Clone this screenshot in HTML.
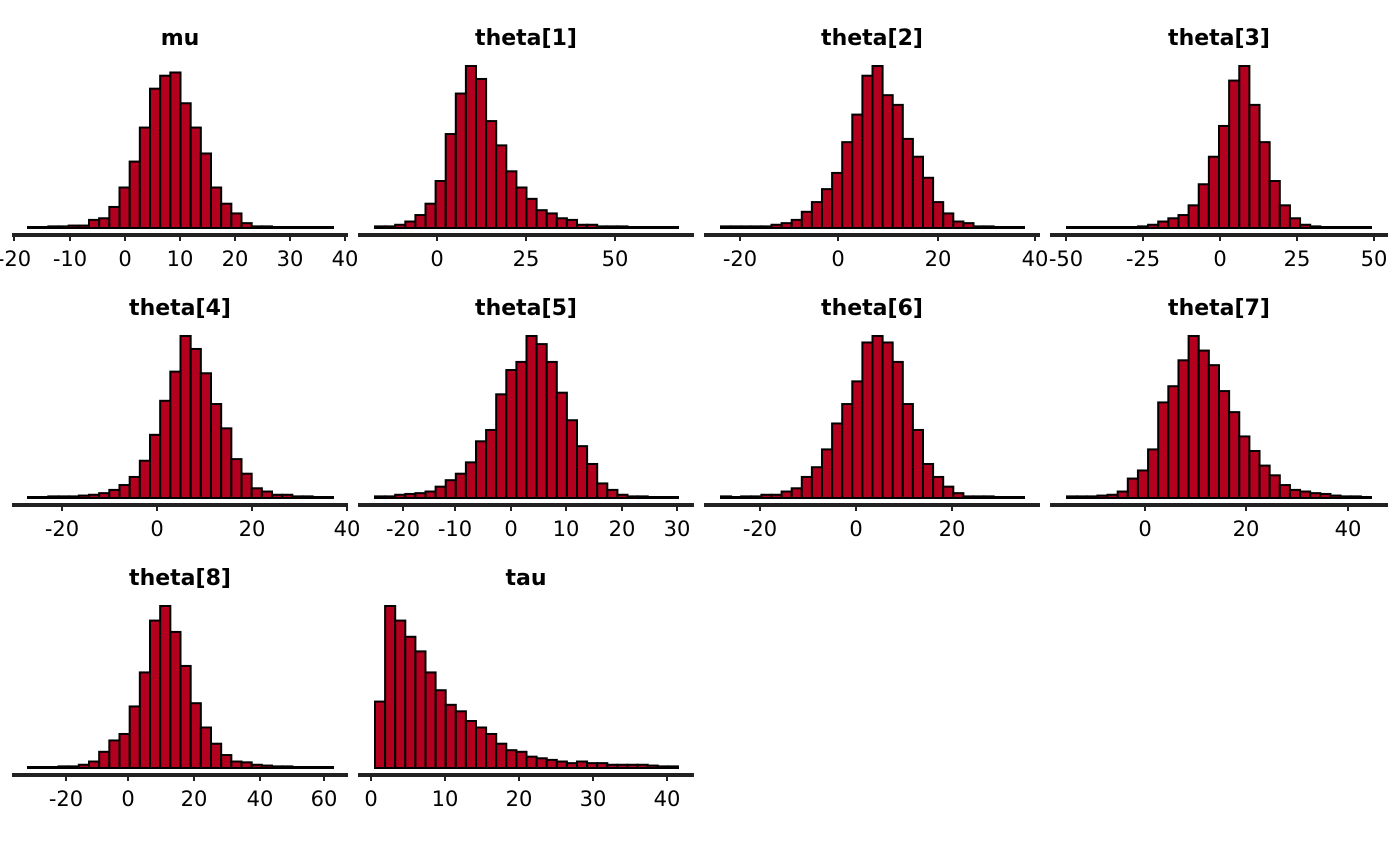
<!DOCTYPE html>
<html><head><meta charset="utf-8"><style>
body{margin:0;background:#fff}
svg{display:block}
text{font-family:"DejaVu Sans","Liberation Sans",sans-serif}
</style></head><body>
<svg id="s" width="1400" height="866" xmlns="http://www.w3.org/2000/svg"></svg>
<script>
const P=[
{t:"mu",c:0,r:0,x0:28,x1:333,h:[0.005,0.005,0.01,0.01,0.015,0.015,0.05,0.06,0.13,0.25,0.41,0.62,0.86,0.94,0.96,0.77,0.62,0.46,0.25,0.15,0.09,0.03,0.01,0.01,0.005,0.005,0.005,0.005,0.005,0.005],ticks:[[14,"-20"],[70,"-10"],[125,"0"],[180,"10"],[235,"20"],[290,"30"],[345,"40"]]},
{t:"theta[1]",c:1,r:0,x0:375,x1:678,h:[0.01,0.01,0.02,0.04,0.08,0.15,0.29,0.58,0.83,1.0,0.92,0.66,0.51,0.35,0.25,0.18,0.11,0.09,0.06,0.05,0.02,0.02,0.01,0.01,0.01,0.005,0.005,0.005,0.005,0.005],ticks:[[437,"0"],[526,"25"],[615,"50"]]},
{t:"theta[2]",c:2,r:0,x0:721,x1:1024,h:[0.01,0.01,0.01,0.01,0.01,0.02,0.03,0.05,0.1,0.16,0.24,0.34,0.53,0.7,0.94,1.0,0.82,0.76,0.55,0.44,0.31,0.16,0.09,0.04,0.03,0.01,0.01,0.005,0.005,0.005],ticks:[[740,"-20"],[838,"0"],[938,"20"],[1035,"40"]]},
{t:"theta[3]",c:3,r:0,x0:1067,x1:1371,h:[0.003,0.003,0.003,0.003,0.003,0.003,0.005,0.01,0.02,0.04,0.06,0.08,0.14,0.27,0.44,0.63,0.91,1.0,0.76,0.53,0.29,0.14,0.06,0.02,0.01,0.003,0.003,0.003,0.003,0.005],ticks:[[1066,"-50"],[1143,"-25"],[1220,"0"],[1297,"25"],[1374,"50"]]},
{t:"theta[4]",c:0,r:1,x0:28,x1:333,h:[0.005,0.005,0.01,0.01,0.01,0.015,0.02,0.03,0.05,0.08,0.13,0.23,0.39,0.6,0.78,1.0,0.92,0.77,0.58,0.43,0.24,0.15,0.06,0.04,0.02,0.02,0.01,0.01,0.005,0.005],ticks:[[62,"-20"],[157,"0"],[252,"20"],[347,"40"]]},
{t:"theta[5]",c:1,r:1,x0:375,x1:678,h:[0.01,0.01,0.02,0.025,0.03,0.04,0.07,0.11,0.15,0.22,0.35,0.42,0.64,0.79,0.84,1.0,0.95,0.84,0.65,0.48,0.32,0.21,0.09,0.05,0.02,0.01,0.01,0.005,0.005,0.005],ticks:[[403,"-20"],[455,"-10"],[511,"0"],[566,"10"],[622,"20"],[677,"30"]]},
{t:"theta[6]",c:2,r:1,x0:721,x1:1024,h:[0.01,0.005,0.01,0.01,0.02,0.02,0.04,0.06,0.13,0.19,0.3,0.46,0.58,0.72,0.96,1.0,0.96,0.84,0.58,0.42,0.21,0.13,0.07,0.03,0.01,0.01,0.01,0.005,0.005,0.005],ticks:[[760,"-20"],[856,"0"],[952,"20"]]},
{t:"theta[7]",c:3,r:1,x0:1067,x1:1371,h:[0.01,0.01,0.01,0.015,0.02,0.04,0.12,0.17,0.3,0.59,0.69,0.85,1.0,0.91,0.82,0.66,0.53,0.38,0.29,0.2,0.14,0.08,0.05,0.04,0.03,0.025,0.015,0.01,0.01,0.005],ticks:[[1145,"0"],[1246,"20"],[1348,"40"]]},
{t:"theta[8]",c:0,r:2,x0:28,x1:333,h:[0.005,0.005,0.005,0.01,0.01,0.02,0.04,0.1,0.17,0.21,0.38,0.59,0.91,1.0,0.84,0.63,0.4,0.25,0.15,0.08,0.04,0.035,0.02,0.015,0.01,0.01,0.005,0.005,0.005,0.005],ticks:[[66,"-20"],[128,"0"],[194,"20"],[260,"40"],[324,"60"]]},
{t:"tau",c:1,r:2,x0:375,x1:678,h:[0.41,1.0,0.91,0.81,0.72,0.59,0.48,0.39,0.35,0.29,0.25,0.21,0.15,0.11,0.10,0.07,0.06,0.05,0.04,0.03,0.04,0.03,0.03,0.02,0.02,0.02,0.02,0.015,0.01,0.01],ticks:[[371,"0"],[445,"10"],[519,"20"],[593,"30"],[667,"40"]]}
];
const AX=[[12,348],[358,694],[704,1040],[1050,1388]];
let o="";
for(const p of P){
  const base=228+p.r*270, H=162, ax=235+p.r*270;
  const w=(p.x1-p.x0)/p.h.length;
  p.h.forEach((v,i)=>{
    const hh=Math.max(v*H,1);
    o+=`<rect x="${(p.x0+i*w).toFixed(2)}" y="${(base-hh).toFixed(2)}" width="${w.toFixed(2)}" height="${hh.toFixed(2)}" fill="#b3001e" stroke="#000" stroke-width="2"/>`;
  });
  const [a,b]=AX[p.c];
  o+=`<line x1="${a}" x2="${b}" y1="${ax}" y2="${ax}" stroke="#222" stroke-width="4"/>`;
  for(const [x,l] of p.ticks){
    o+=`<line x1="${x}" x2="${x}" y1="${ax}" y2="${ax+6}" stroke="#222" stroke-width="2"/>`;
    o+=`<text x="${x}" y="${ax+31}" font-size="21" text-anchor="middle" fill="#000">${l}</text>`;
  }
  o+=`<text x="${(a+b)/2}" y="${45+p.r*270}" font-size="22" font-weight="bold" text-anchor="middle" fill="#000">${p.t}</text>`;
}
document.getElementById("s").innerHTML=o;
</script>
</body></html>
